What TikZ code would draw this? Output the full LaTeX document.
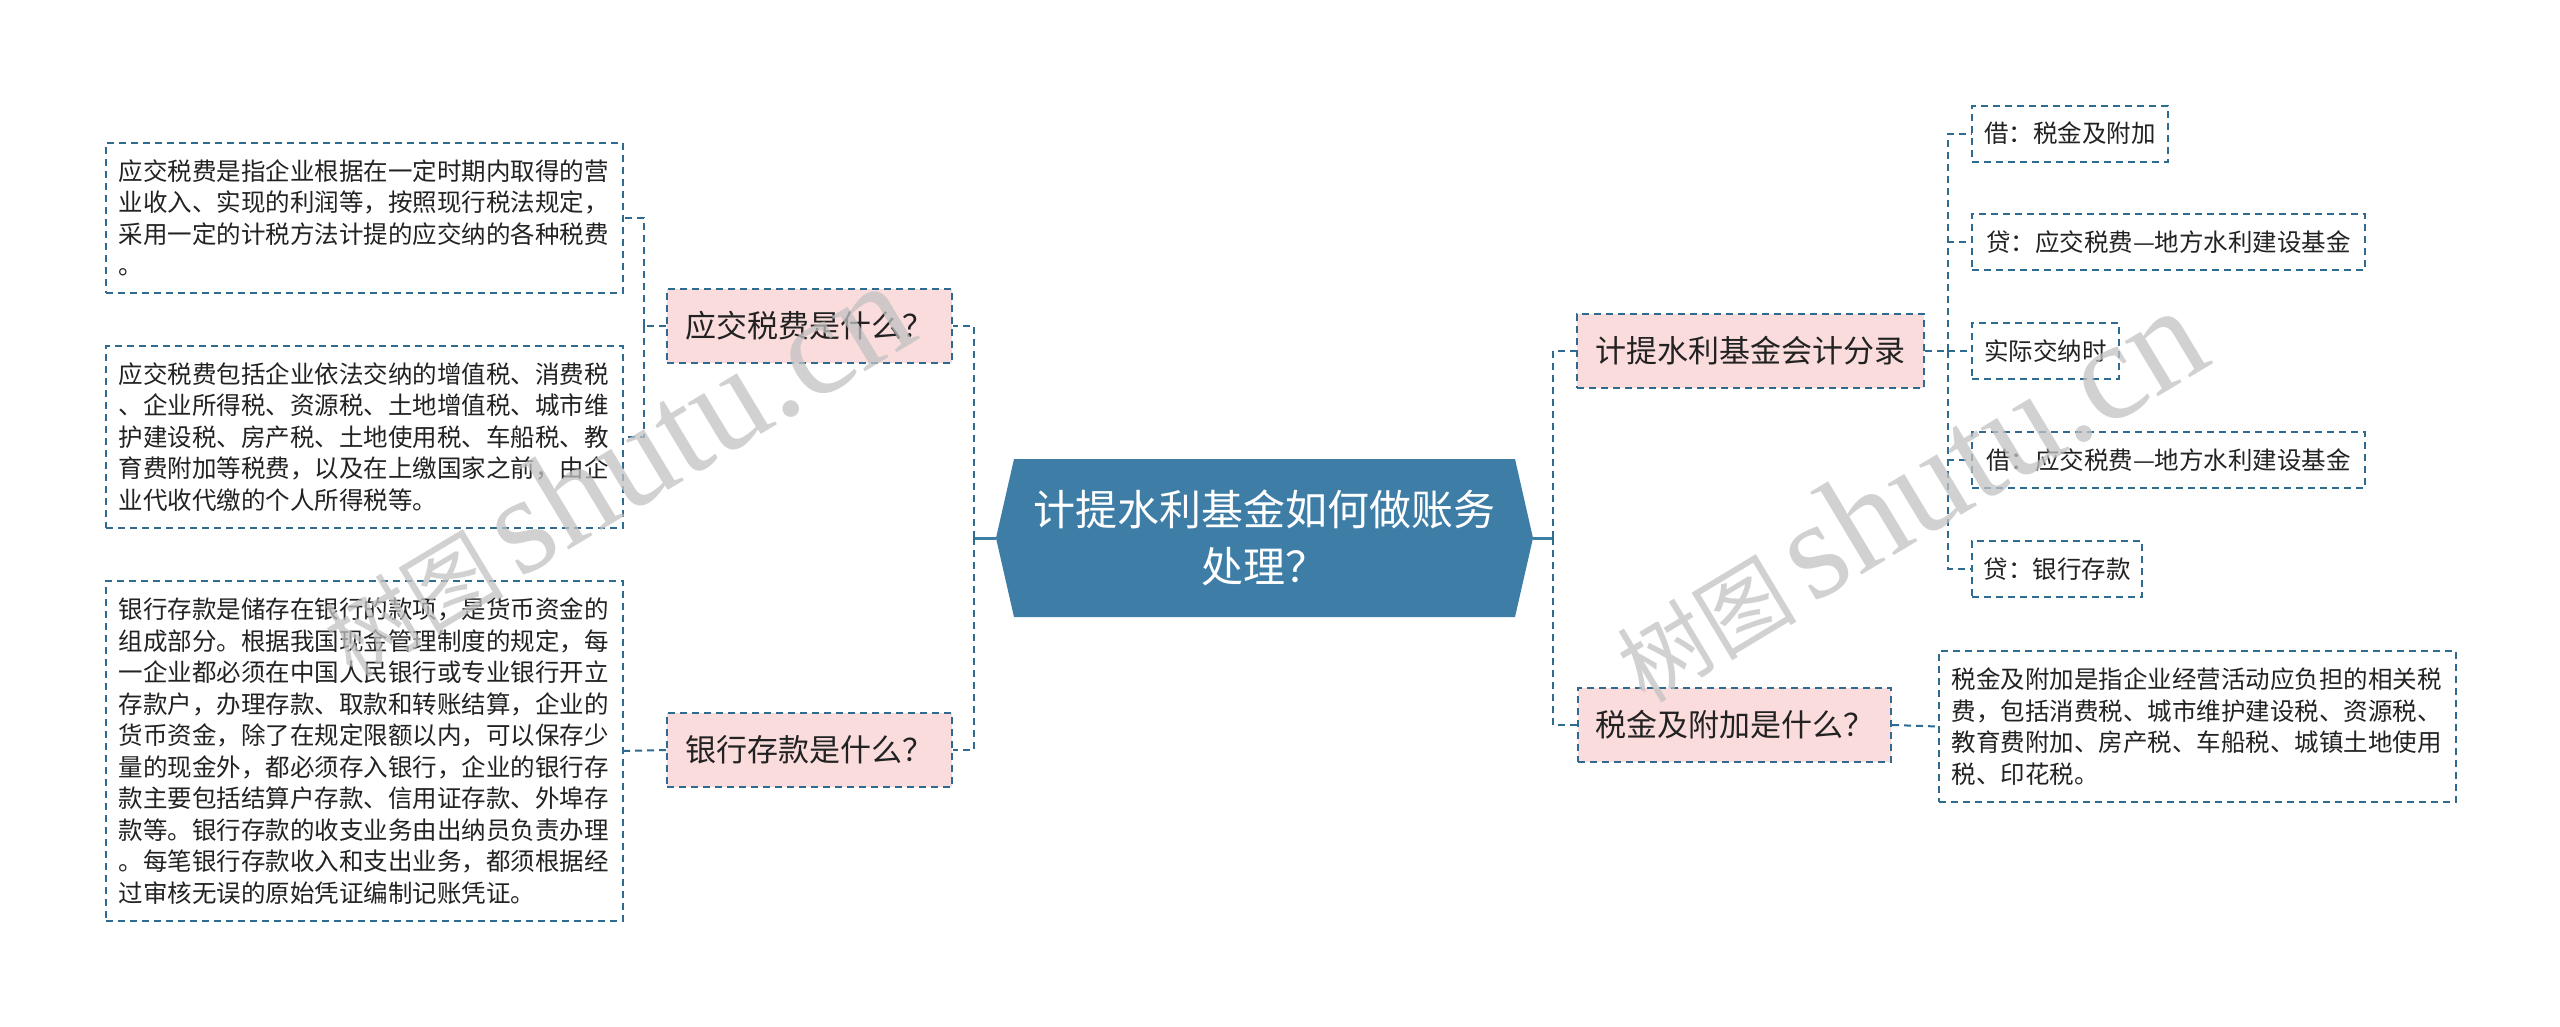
\documentclass[tikz,border=0pt]{standalone}
\usepackage{fontspec}
\setmainfont{Noto Sans CJK SC}
\newfontfamily\wmserif{Liberation Serif}
\definecolor{lineblue}{HTML}{2F6B90}
\definecolor{rootblue}{HTML}{3D7DA6}
\definecolor{pinkfill}{HTML}{FADCDC}
\definecolor{txt}{HTML}{222222}
\definecolor{wm}{HTML}{C2C2C2}
\begin{document}
\begin{tikzpicture}[x=1pt,y=-1pt,
  dashline/.style={draw=lineblue, line width=2pt, dash pattern=on 7pt off 5pt},
  solidline/.style={draw=rootblue, line width=3pt},
  pinkbox/.style={dashline, fill=pinkfill, minimum height=74pt, inner sep=0pt, font=\fontsize{31pt}{38pt}\selectfont, text=txt},
  leafbox/.style={dashline, fill=white, minimum height=56pt, inner sep=0pt, anchor=west, font=\fontsize{24.5pt}{31.5pt}\selectfont, text=txt},
  textbox/.style={dashline, fill=white, text width=492pt, align=left, inner xsep=12.5pt, inner ysep=0pt, anchor=north west, font=\fontsize{24.5pt}{31.5pt}\selectfont, text=txt},
  wmark/.style={rotate=31, anchor=base west, text=wm, opacity=0.75, inner sep=0pt}
]
\useasboundingbox[fill=white] (0,0) rectangle (2560,1026);

% root
\fill[rootblue] (996,538) -- (1014,459) -- (1515,459) -- (1533,538) -- (1515,617) -- (1014,617) -- cycle;
\node[text=white, align=center, font=\fontsize{42pt}{57pt}\selectfont] (root) at (1264.5,538) {计提水利基金如何做账务\\处理？};
\coordinate (rootL) at (996,538);
\coordinate (rootR) at (1533,538);

% level 1
\node[pinkbox, minimum width=285pt] (q1) at (809.5,326) {应交税费是什么？};
\node[pinkbox, minimum width=285pt] (q2) at (809.5,750) {银行存款是什么？};
\node[pinkbox, minimum width=347pt] (q3) at (1750.5,351) {计提水利基金会计分录};
\node[pinkbox, minimum width=313pt] (q4) at (1734.5,725) {税金及附加是什么？};

% left text boxes
\node[textbox, minimum height=150pt] (t1) at (105,142) {应交税费是指企业根据在一定时期内取得的营\\业收入、实现的利润等，按照现行税法规定，\\采用一定的计税方法计提的应交纳的各种税费\\。};
\node[textbox, minimum height=182pt] (t2) at (105,345) {应交税费包括企业依法交纳的增值税、消费税\\、企业所得税、资源税、土地增值税、城市维\\护建设税、房产税、土地使用税、车船税、教\\育费附加等税费，以及在上缴国家之前，由企\\业代收代缴的个人所得税等。};
\node[textbox, minimum height=340pt] (t3) at (105,580) {银行存款是储存在银行的款项，是货币资金的\\组成部分。根据我国现金管理制度的规定，每\\一企业都必须在中国人民银行或专业银行开立\\存款户，办理存款、取款和转账结算，企业的\\货币资金，除了在规定限额以内，可以保存少\\量的现金外，都必须存入银行，企业的银行存\\款主要包括结算户存款、信用证存款、外埠存\\款等。银行存款的收支业务由出纳员负责办理\\。每笔银行存款收入和支出业务，都须根据经\\过审核无误的原始凭证编制记账凭证。};
\node[textbox, minimum height=151pt] (t4) at (1938,650) {税金及附加是指企业经营活动应负担的相关税\\费，包括消费税、城市维护建设税、资源税、\\教育费附加、房产税、车船税、城镇土地使用\\税、印花税。};

% right leaves
\node[leafbox, minimum width=196pt] (k1) at (1971,133.5) {借：税金及附加};
\node[leafbox, minimum width=393pt] (k2) at (1971,242) {贷：应交税费—地方水利建设基金};
\node[leafbox, minimum width=147pt] (k3) at (1971,351) {实际交纳时};
\node[leafbox, minimum width=393pt] (k4) at (1971,460) {借：应交税费—地方水利建设基金};
\node[leafbox, minimum width=170pt] (k5) at (1971,569) {贷：银行存款};

% connectors
\coordinate (jl) at (974,538);
\coordinate (jr) at (1553,538);
\coordinate (j1) at (644,326);
\coordinate (j3) at (1948,351);
\draw[solidline] (rootL) -- (jl);
\draw[solidline] (rootR) -- (jr);
\draw[dashline] (jl) |- (q1.east);
\draw[dashline] (jl) |- (q2.east);
\draw[dashline] (jr) |- (q3.west);
\draw[dashline] (jr) |- (q4.west);
\draw[dashline] (q1.west) -- (j1);
\draw[dashline] (j1) |- (t1.east);
\draw[dashline] (j1) |- (t2.east);
\draw[dashline] (q2.west) -- (t3.east);
\draw[dashline] (q4.east) -- (t4.west);
\draw[dashline] (q3.east) -- (j3);
\draw[dashline] (j3) |- (k1.west);
\draw[dashline] (j3) |- (k2.west);
\draw[dashline] (j3) -- (k3.west);
\draw[dashline] (j3) |- (k4.west);
\draw[dashline] (j3) |- (k5.west);

% watermarks
\node[wmark] (wm1) at (352,680) {\fontsize{90pt}{90pt}\selectfont 树图\,{\wmserif\fontsize{140pt}{140pt}\selectfont shutu.cn}};
\node[wmark] (wm2) at (1645,705) {\fontsize{90pt}{90pt}\selectfont 树图\,{\wmserif\fontsize{140pt}{140pt}\selectfont shutu.cn}};
\end{tikzpicture}
\end{document}
